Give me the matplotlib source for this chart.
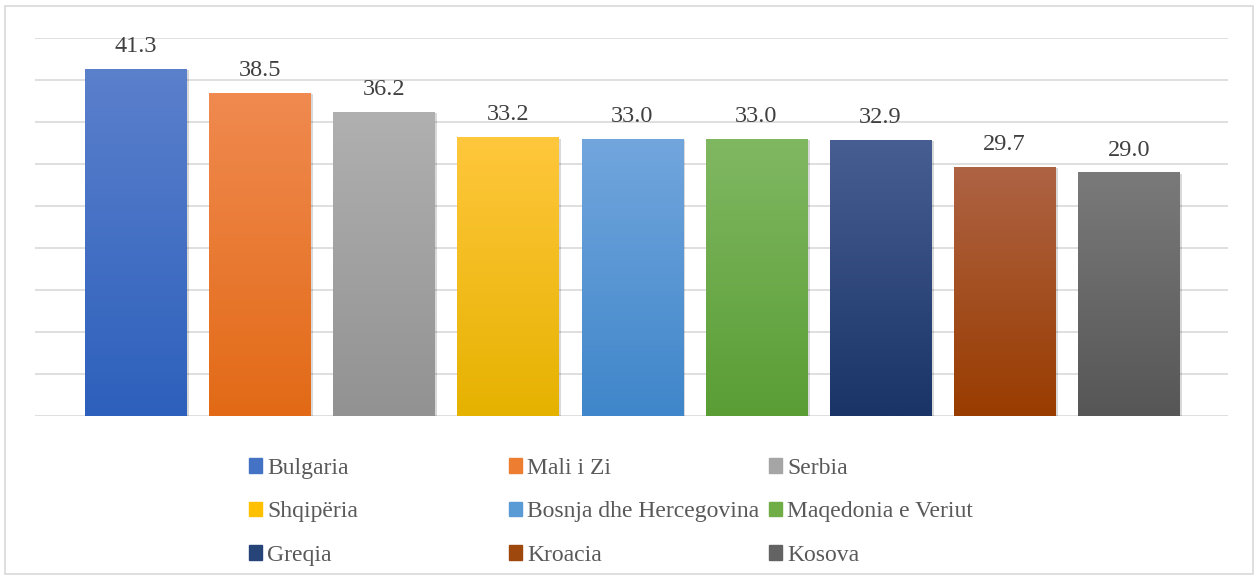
import numpy as np
import matplotlib
matplotlib.use("Agg")
import matplotlib.pyplot as plt
from matplotlib.colors import LinearSegmentedColormap
from matplotlib.patches import Rectangle
import matplotlib.patheffects as pe

countries = ["Bulgaria", "Mali i Zi", "Serbia", "Shqipëria", "Bosnja dhe Hercegovina",
             "Maqedonia e Veriut", "Greqia", "Kroacia", "Kosova"]
values = [41.3, 38.5, 36.2, 33.2, 33.0, 33.0, 32.9, 29.7, 29.0]
top_colors = ["#5B80CC", "#F08A50", "#B0B0B0", "#FFC73C", "#72A6DD", "#80B862",
              "#475E92", "#AE6344", "#7A7A7A"]
bottom_colors = ["#2D60BC", "#E26A16", "#929292", "#E6B200", "#3F86CA", "#5A9D35",
                 "#1A3468", "#993C00", "#565656"]
mid_colors = ["#4472C4", "#ED7D31", "#A5A5A5", "#FFC000", "#5B9BD5", "#70AD47",
              "#264478", "#9E480E", "#636363"]

plt.rcParams['font.family'] = ['Liberation Serif', 'DejaVu Serif']

W, H = 1258, 579
fig = plt.figure(figsize=(W / 100, H / 100), dpi=100)
fig.patches.append(Rectangle((5 / W, 5 / H), 1248 / W, 568 / H, transform=fig.transFigure,
                             fill=False, edgecolor="#D9D9D9", linewidth=1.2))

ax = fig.add_axes([35 / W, 163 / H, 1193 / W, 378 / H])
x = np.arange(len(values))
width = 0.814
bars = ax.bar(x, values, width=width, color=mid_colors, zorder=2)

for i, b in enumerate(bars):
    b.set_path_effects([pe.SimplePatchShadow(offset=(2, -1), shadow_rgbFace="#000000", alpha=0.15),
                        pe.Normal()])
    cmap = LinearSegmentedColormap.from_list("g%d" % i, [bottom_colors[i], top_colors[i]])
    grad = np.linspace(0, 1, 256).reshape(-1, 1)
    im = ax.imshow(grad, cmap=cmap, origin="lower", aspect="auto", zorder=3,
                   extent=[b.get_x(), b.get_x() + b.get_width(), 0, b.get_height()])
    im.set_clip_path(b)
    ax.annotate("%.1f" % values[i], (b.get_x() + b.get_width() / 2, b.get_height()),
                xytext=(0, 8.5), textcoords="offset points", ha="center", va="bottom",
                fontsize=17.5, color="#404040")

ax.set_xlim(-0.81, 8.80)
ax.set_ylim(0, 45)
ax.set_yticks(np.arange(0, 46, 5))
ax.yaxis.grid(True, color="#D9D9D9", linewidth=1.2, zorder=0)
ax.set_axisbelow(True)
ax.tick_params(left=False, bottom=False, labelleft=False, labelbottom=False)
for s in ax.spines.values():
    s.set_visible(False)

# legend: three columns of equal width, filled row by row
col_x = [249, 509, 769]
for c in range(3):
    idx = [c, c + 3, c + 6]
    handles = [Rectangle((0, 0), 1, 1, color=mid_colors[j]) for j in idx]
    leg = fig.legend(handles, [countries[j] for j in idx], loc="upper left",
                     bbox_to_anchor=(col_x[c] / W, 1 - 458 / H), frameon=False,
                     fontsize=17, handlelength=0.56, handleheight=0.56, handletextpad=0.21,
                     labelspacing=0.95, borderpad=0, borderaxespad=0)
    for t in leg.get_texts():
        t.set_color("#595959")

fig.savefig("out.png", dpi=100)
